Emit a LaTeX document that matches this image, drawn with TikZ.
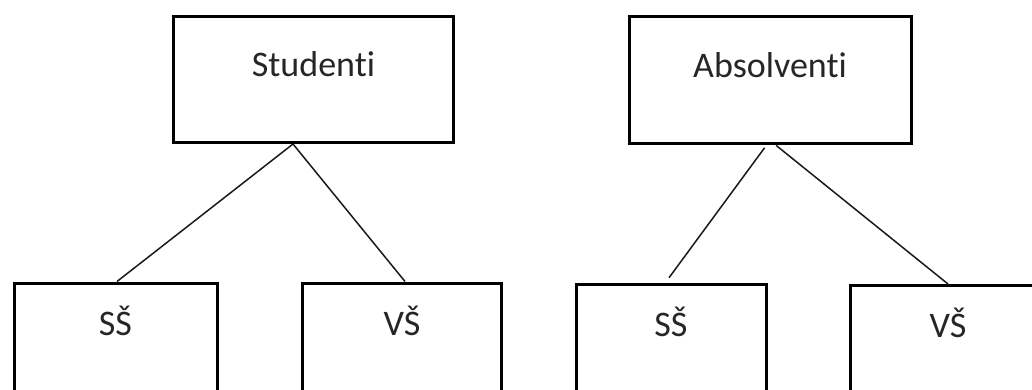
\documentclass[tikz,border=0pt]{standalone}
\usepackage{fontspec}
\setmainfont{Carlito}[Ligatures=NoCommon]

\begin{document}
\begin{tikzpicture}[x=0.5pt,y=-0.5pt]
\tikzstyle{every node}+=[inner sep=0pt, font=\fontsize{18}{20}\selectfont, text=black!85]
\tikzstyle{topbox}=[draw, line width=1.5pt, minimum height=63pt, text height=12pt, text depth=15pt]
\tikzstyle{leafbox}=[draw, line width=1.5pt, minimum height=63pt, text height=12pt, text depth=23pt]
\tikzstyle{branch}=[line width=0.75pt, black!90]
\clip (0,0) rectangle (1032,390);
% upper boxes
\node [topbox, minimum width=140pt] (stud) at (313.5,79.5) {Studenti};
\node [topbox, minimum width=141pt] (absol) at (770,80) {Absolventi};
% lower boxes
\node [leafbox, minimum width=101.5pt] (ss1) at (115.5,346) {SŠ};
\node [leafbox, minimum width=99.5pt] (vs1) at (402,346) {VŠ};
\node [leafbox, minimum width=95pt] (ss2) at (671,347) {SŠ};
\node [leafbox, minimum width=98pt] (vs2) at (948,348.5) {VŠ};
% branches
\draw [branch] ([xshift=-10.25pt]stud.south) -- ([xshift=0.75pt]ss1.north);
\draw [branch] ([xshift=-10.25pt]stud.south) -- ([xshift=1.5pt]vs1.north);
\draw [branch, shorten <=2pt, shorten >=3pt] ([xshift=-1.5pt]absol.south) -- ([xshift=-2.75pt]ss2.north);
\draw [branch, shorten <=0.75pt] ([xshift=2.5pt]absol.south) -- (vs2.north);
\end{tikzpicture}
\end{document}
